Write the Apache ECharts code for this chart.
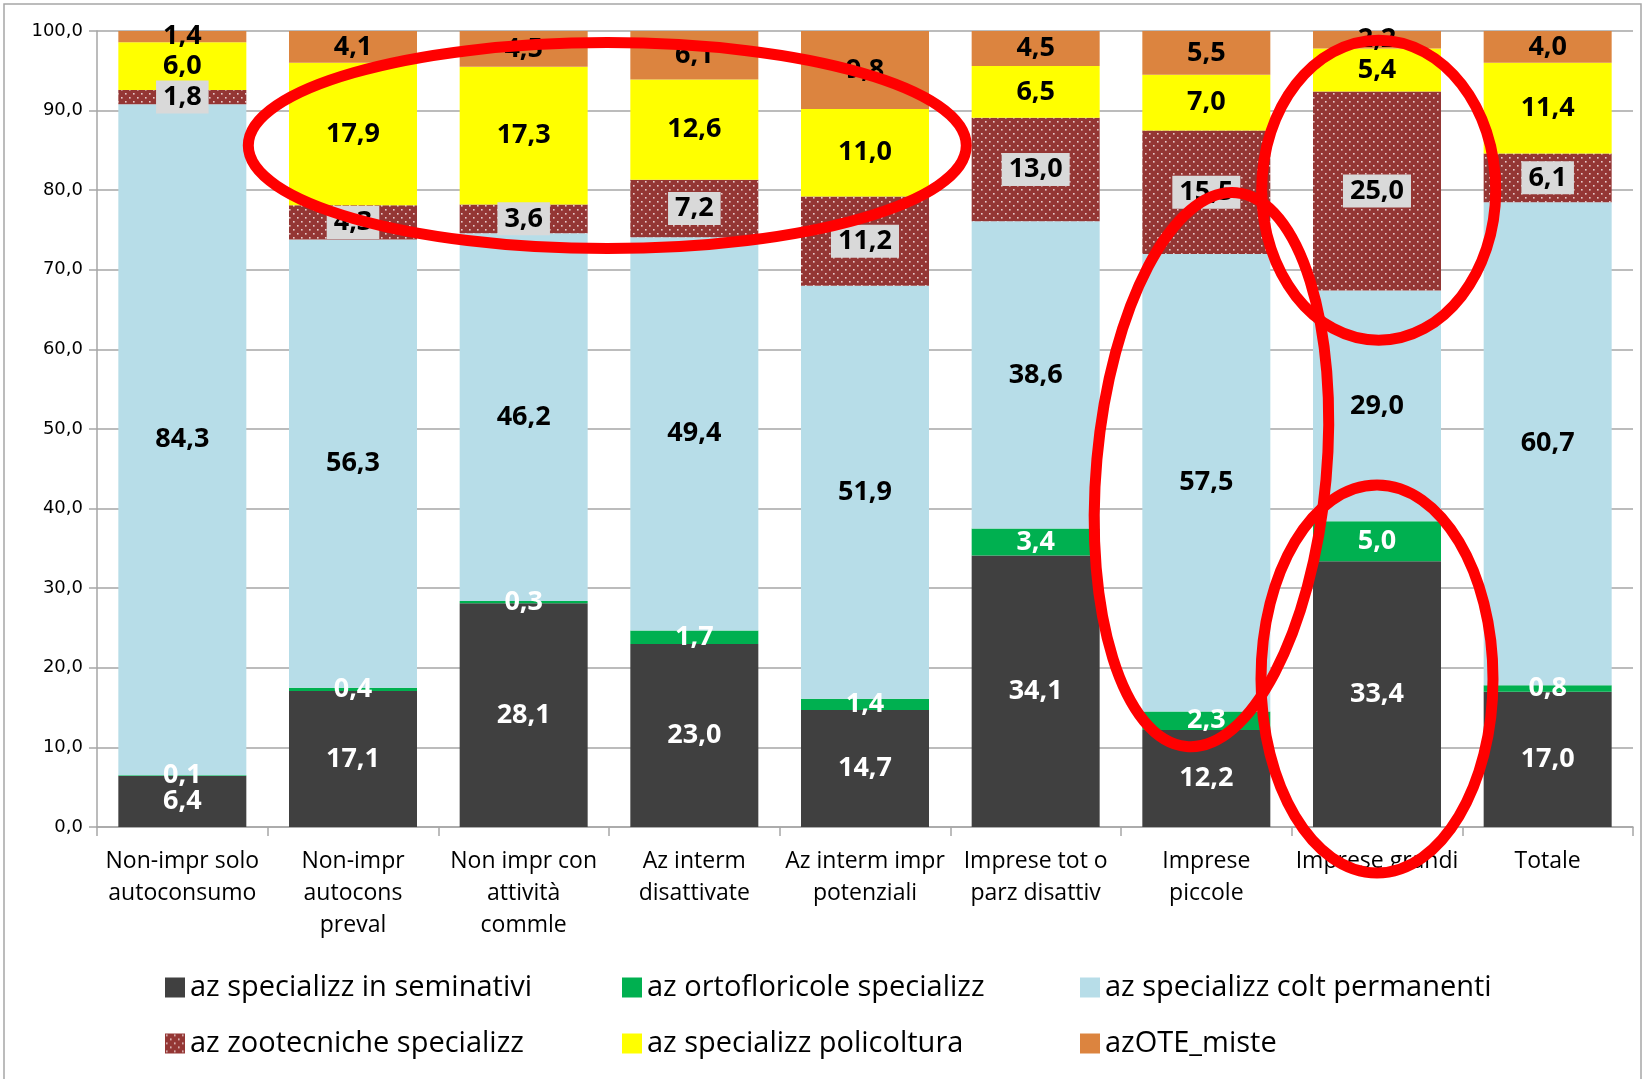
<!DOCTYPE html>
<html>
<head>
<meta charset="utf-8">
<script src="https://cdn.jsdelivr.net/npm/echarts@6/dist/echarts.min.js"></script>
<style>
  html, body { margin: 0; padding: 0; background: #fff; }
  #grid { width: 1645px; height: 1079px; }
</style>
</head>
<body>
<div id="grid"></div>
<script>
const categories = [
  'Non-impr solo\nautoconsumo',
  'Non-impr\nautocons\npreval',
  'Non impr con\nattività\ncommle',
  'Az interm\ndisattivate',
  'Az interm impr\npotenziali',
  'Imprese tot o\nparz disattiv',
  'Imprese\npiccole',
  'Imprese grandi',
  'Totale',
];
const seriesNames = [
  'az specializz in seminativi',
  'az ortofloricole specializz',
  'az specializz colt permanenti',
  'az zootecniche specializz',
  'az specializz policoltura',
  'azOTE_miste',
];
const seminativi = [6.4, 17.1, 28.1, 23.0, 14.7, 34.1, 12.2, 33.4, 17.0];
const ortofloricole = [0.1, 0.4, 0.3, 1.7, 1.4, 3.4, 2.3, 5.0, 0.8];
const coltPermanenti = [84.3, 56.3, 46.2, 49.4, 51.9, 38.6, 57.5, 29.0, 60.7];
const zootecniche = [1.8, 4.3, 3.6, 7.2, 11.2, 13.0, 15.5, 25.0, 6.1];
const policoltura = [6.0, 17.9, 17.3, 12.6, 11.0, 6.5, 7.0, 5.4, 11.4];
const miste = [1.4, 4.1, 4.5, 6.1, 9.8, 4.5, 5.5, 2.2, 4.0];

// red hand-drawn annotations: [category position, value, rx, ry, rotation]
const annotations = [
  [2.49, 85.6, 359, 103, 0],
  [6.03, 44.9, 115, 278, -0.09],
  [7.01, 80.0, 117, 150, 0],
  [7.0, 18.6, 116, 194, 0],
];

const myChart = echarts.init(document.getElementById('grid'));

const numFont = "'Open Sans', sans-serif";
const txtFont = "'Open Sans', 'Noto Sans', sans-serif";

function fmt(v) {
  return v.toFixed(1).replace('.', ',');
}

// dotted pattern for the zootecniche series
const dots = document.createElement('canvas');
dots.width = 8;
dots.height = 8;
const ctx = dots.getContext('2d');
ctx.fillStyle = '#943634';
ctx.fillRect(0, 0, 8, 8);
ctx.fillStyle = 'rgba(240,220,220,0.9)';
ctx.fillRect(1, 1, 1.6, 1.6);
ctx.fillRect(5, 5, 1.6, 1.6);

const colors = ['#404040', '#00b050', '#b7dde8', { image: dots, repeat: 'repeat' }, '#ffff00', '#dc843f'];
const values = [seminativi, ortofloricole, coltPermanenti, zootecniche, policoltura, miste];
const labelColors = ['#fff', '#fff', '#000', '#000', '#000', '#000'];

function makeLabel(i) {
  const label = {
    show: true,
    position: 'inside',
    fontFamily: numFont,
    fontWeight: 'bold',
    fontSize: 27,
    color: labelColors[i],
    formatter: (p) => fmt(p.value),
  };
  if (i === 3) {
    label.backgroundColor = '#d9d9d9';
    label.padding = [4, 7, 2, 7];
  }
  return label;
}

const series = values.map((data, i) => ({
  name: seriesNames[i],
  type: 'bar',
  stack: 'total',
  data: data,
  barWidth: '75%',
  itemStyle: { color: colors[i] },
  label: makeLabel(i),
  emphasis: { disabled: true },
}));

const legendPos = [
  [160, 968], [617, 968], [1075, 968],
  [160, 1024], [617, 1024], [1075, 1024],
];

const option = {
  animation: false,
  grid: { left: 97, right: 12, top: 31, bottom: 252 },
  legend: seriesNames.map((n, i) => ({
    data: [n],
    left: legendPos[i][0],
    top: legendPos[i][1],
    icon: 'rect',
    itemWidth: 20,
    itemHeight: 20,
    itemGap: 6,
    textStyle: { fontFamily: txtFont, fontSize: 29, color: '#000' },
  })),
  xAxis: {
    type: 'category',
    data: categories,
    axisLine: { lineStyle: { color: '#a6a6a6', width: 1.5 } },
    axisTick: { show: true, length: 9, lineStyle: { color: '#a6a6a6', width: 1.5 } },
    axisLabel: {
      interval: 0,
      margin: 18,
      fontFamily: txtFont,
      fontSize: 23,
      lineHeight: 32,
      color: '#000',
    },
  },
  yAxis: {
    type: 'value',
    min: 0,
    max: 100,
    interval: 10,
    axisLine: { show: true, lineStyle: { color: '#a6a6a6', width: 1.5 } },
    axisTick: { show: true, length: 8, lineStyle: { color: '#a6a6a6', width: 1.5 } },
    axisLabel: {
      margin: 14,
      fontFamily: "'DejaVu Sans', sans-serif",
      fontSize: 18,
      color: '#000',
      formatter: (v) => fmt(v),
    },
    splitLine: { lineStyle: { color: '#a6a6a6', width: 1.5 } },
  },
  series: series,
};

myChart.setOption(option);

// annotations anchored on data coordinates
const p0 = myChart.convertToPixel({ gridIndex: 0 }, [0, 0]);
const p1 = myChart.convertToPixel({ gridIndex: 0 }, [1, 100]);
const step = p1[0] - p0[0];
const graphics = annotations.map((a) => ({
  type: 'ellipse',
  x: p0[0] + a[0] * step,
  y: p0[1] + (p1[1] - p0[1]) * (a[1] / 100),
  rotation: a[4],
  shape: { cx: 0, cy: 0, rx: a[2], ry: a[3] },
  style: { fill: null, stroke: '#ff0000', lineWidth: 11 },
  z: 100,
}));
graphics.push({
  type: 'rect',
  shape: { x: 4, y: 4, width: 1637, height: 1090 },
  style: { fill: null, stroke: '#a6a6a6', lineWidth: 1.5 },
  silent: true,
});

myChart.setOption({ graphic: graphics });
</script>
</body>
</html>
